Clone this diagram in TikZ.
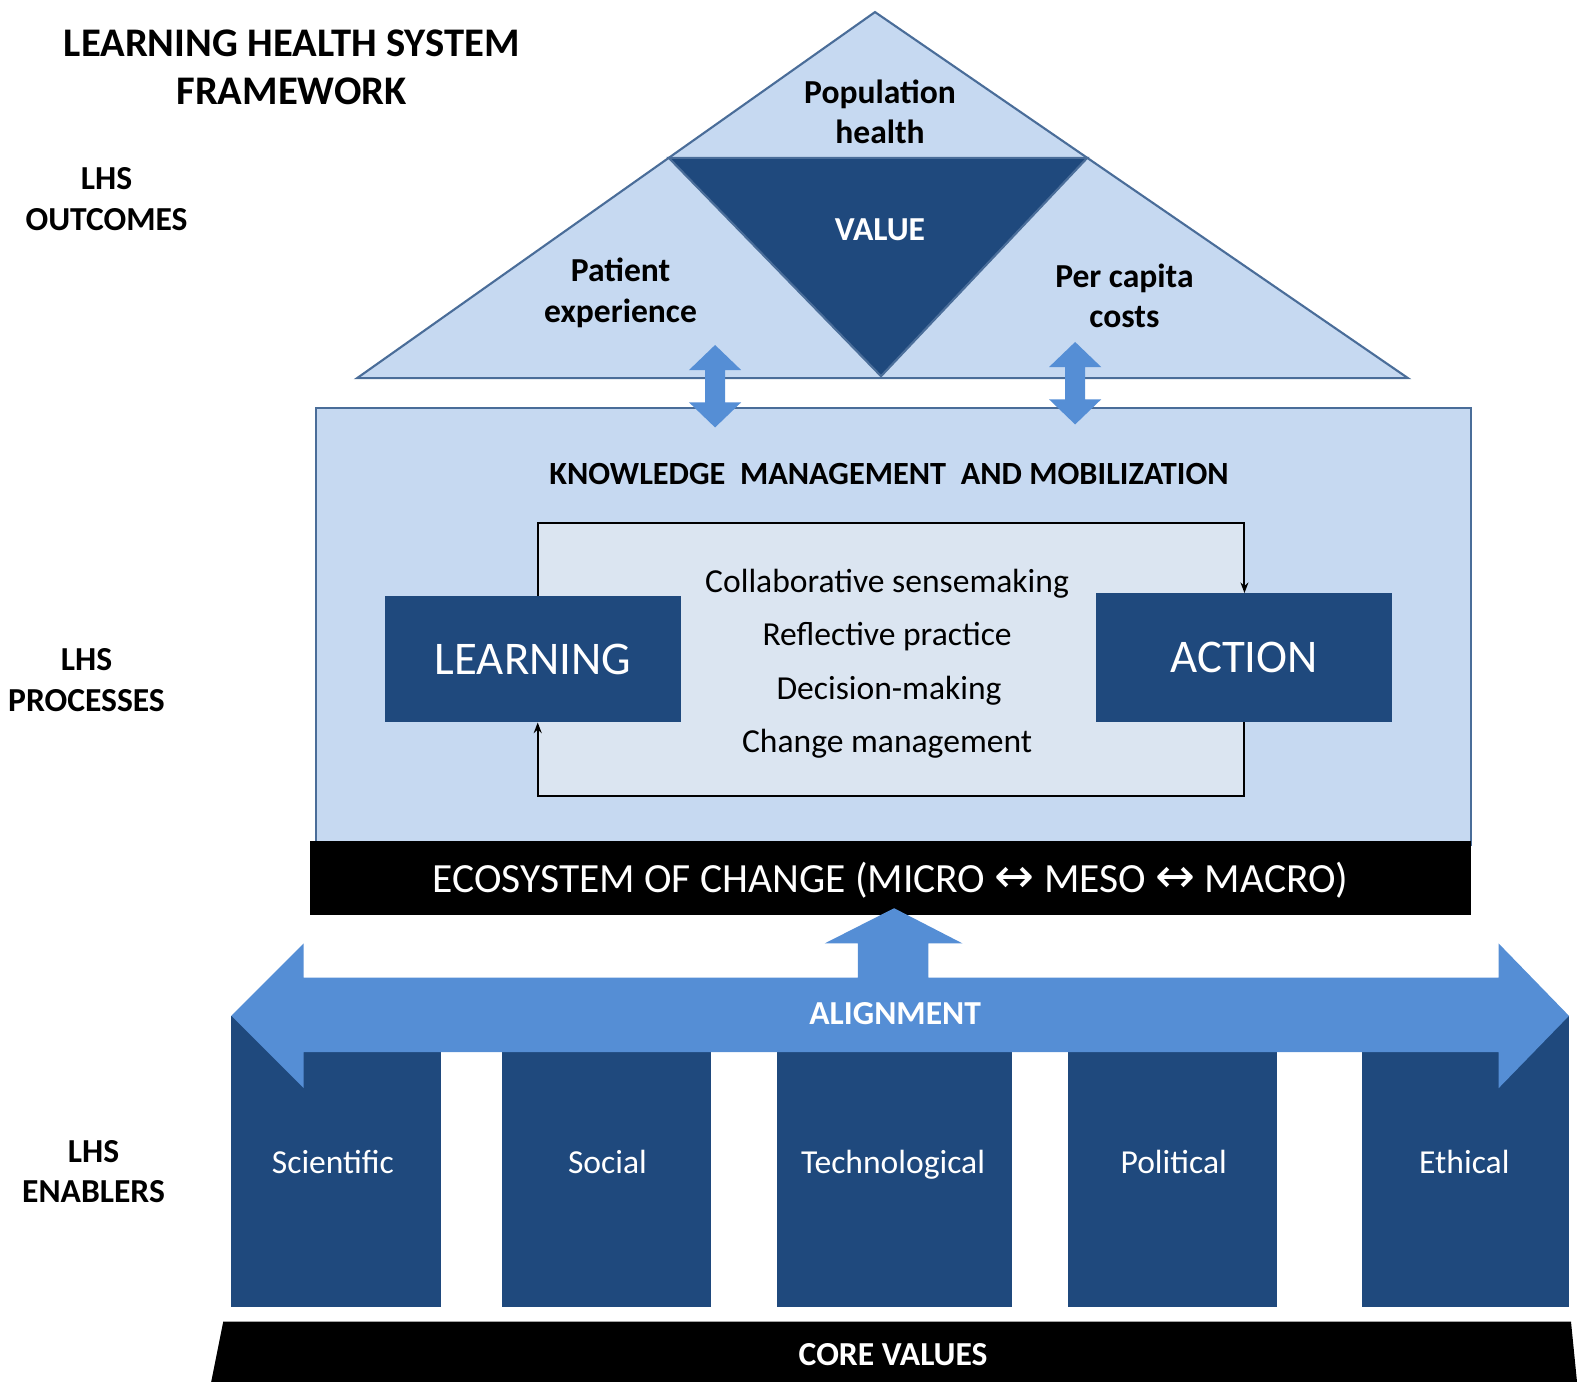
\documentclass[tikz,border=0pt]{standalone}
\usepackage{fontspec}
\setmainfont{Carlito}
\newfontfamily\symfont{DejaVu Sans}
\usetikzlibrary{arrows.meta,fit}
\definecolor{lblue}{HTML}{C6D9F1}
\definecolor{dblue}{HTML}{1F497D}
\definecolor{ibox}{HTML}{DBE5F1}
\definecolor{mblue}{HTML}{558ED5}
\definecolor{edgec}{HTML}{4A6D99}
\begin{document}
\begin{tikzpicture}[x=0.02cm,y=-0.02cm,
  fsA/.style={font=\bfseries\fontsize{23}{27.5}\selectfont},
  side/.style={font=\bfseries\fontsize{19}{23}\selectfont, align=center, inner sep=0},
  tri/.style={font=\bfseries\fontsize{19}{23}\selectfont, align=center, inner sep=0},
  inner/.style={font=\fontsize{19}{22}\selectfont, inner sep=0, text height=1.4ex, text depth=0.4ex},
  big/.style={font=\fontsize{26.5}{31}\selectfont, text=white, inner sep=0},
  pil/.style={font=\fontsize{19}{23}\selectfont, text=white, inner sep=0, text height=1.4ex, text depth=0.3ex},
  wb/.style={font=\bfseries\fontsize{19}{23}\selectfont, text=white, inner sep=0},
  loopline/.style={line width=1.1pt, -{Stealth[length=6pt,width=4.5pt]}},
  pics/vdarrow/.style={code={\fill[mblue] (0,0) -- (26,25) -- (10,25) -- (10,57) -- (26,57) -- (0,82) -- (-26,57) -- (-10,57) -- (-10,25) -- (-26,25) -- cycle;}}
]
\useasboundingbox (0,0) rectangle (1568,1374);

% titles
\node[fsA, align=center, inner sep=0] (title) at (290,67) {LEARNING HEALTH SYSTEM\\FRAMEWORK};
\node[side] (lhsO) at (106,198) {LHS\\OUTCOMES};
\node[side] (lhsP) at (86,676) {LHS\\PROCESSES};
\node[side] (lhsE) at (93,1165) {LHS\\ENABLERS};

% outcomes triangle
\coordinate (apex) at (870,12);
\coordinate (bl) at (355,376);
\coordinate (br) at (1400,376);
\draw[edgec, fill=lblue, line width=1.2pt] (apex) -- (br) -- (bl) -- cycle;
\coordinate (vl) at (665,157);
\coordinate (vr) at (1081,157);
\coordinate (vb) at (876,374);
\draw[edgec, fill=dblue, line width=1.2pt] (vl) -- (vr) -- (vb) -- cycle;
\node[tri] (pop) at (875,111) {Population\\health};
\node[tri, text=white] (value) at (875,228) {VALUE};
\node[tri] (pat) at (617,291) {Patient\\experience};
\node[tri] (cost) at (1118,294) {Per capita\\costs};

% processes box
\node[fit={(314,406) (1463,840)}, inner sep=0, draw=edgec, fill=lblue, line width=1.2pt] (proc) {};
\node[font=\bfseries\fontsize{18.3}{22}\selectfont, inner sep=0] (km) at (884,471) {KNOWLEDGE~ MANAGEMENT~ AND MOBILIZATION};
\node[fit={(535,520) (1237,791)}, inner sep=0, fill=ibox] (ibx) {};
\node[fit={(383,593) (677,718)}, inner sep=0, fill=dblue] (learn) {};
\node[fit={(1090,590) (1384,718)}, inner sep=0, fill=dblue] (action) {};
\node[big] (learnT) at (learn.center) {LEARNING};
\node[big] (actionT) at (action.center) {ACTION};
\draw[loopline] (ibx.west |- learn.north) -- (ibx.north west) -- (ibx.north east) -- (ibx.east |- action.north);
\draw[loopline] (ibx.east |- action.south) -- (ibx.south east) -- (ibx.south west) -- (ibx.west |- learn.south);
\node[inner] (t1) at (882,585) {Collaborative sensemaking};
\node[inner] (t2) at (882,638) {Reflective practice};
\node[inner] (t3) at (884,691) {Decision-making};
\node[inner] (t4) at (882,744) {Change management};

% double arrows
\pic at (711,343) {vdarrow};
\pic at (1069,340) {vdarrow};

% ecosystem bar
\node[fit={(308,836) (1463,910)}, inner sep=0, fill=black] (eco) {};
\node[font=\fontsize{23.5}{28}\selectfont, text=white, inner sep=0] (ecoT) at ([yshift=-1.5pt]eco.center) {ECOSYSTEM OF CHANGE (MICRO {\symfont\fontsize{27}{28}\selectfont ↔} MESO {\symfont\fontsize{27}{28}\selectfont ↔} MACRO)};

% pillars
\fill[dblue] (230,1010) rectangle (438,1300);
\fill[dblue] (499,1010) rectangle (707,1300);
\fill[dblue] (773,1010) rectangle (1006,1300);
\fill[dblue] (1062,1010) rectangle (1270,1300);
\fill[dblue] (1354,1010) rectangle (1560,1300);
\node[pil] (p1) at (331,1162) {Scientific};
\node[pil] (p2) at (604,1162) {Social};
\node[pil] (p3) at (888,1162) {Technological};
\node[pil] (p4) at (1167,1162) {Political};
\node[pil] (p5) at (1456,1162) {Ethical};

% alignment arrow
\fill[mblue] (230,1010) -- (302,938) -- (302,972) -- (853,972) -- (853,938) -- (820,938) -- (889,903) -- (957,938) -- (923,938) -- (923,972) -- (1490,972) -- (1490,938) -- (1560,1010) -- (1490,1082) -- (1490,1046) -- (302,1046) -- (302,1082) -- cycle;
\node[wb] (align) at (890,1008) {ALIGNMENT};

% core values
\fill[black] (222,1314) -- (1562,1314) -- (1568,1374) -- (210,1374) -- cycle;
\node[wb] (core) at (888,1347) {CORE VALUES};
\end{tikzpicture}
\end{document}
